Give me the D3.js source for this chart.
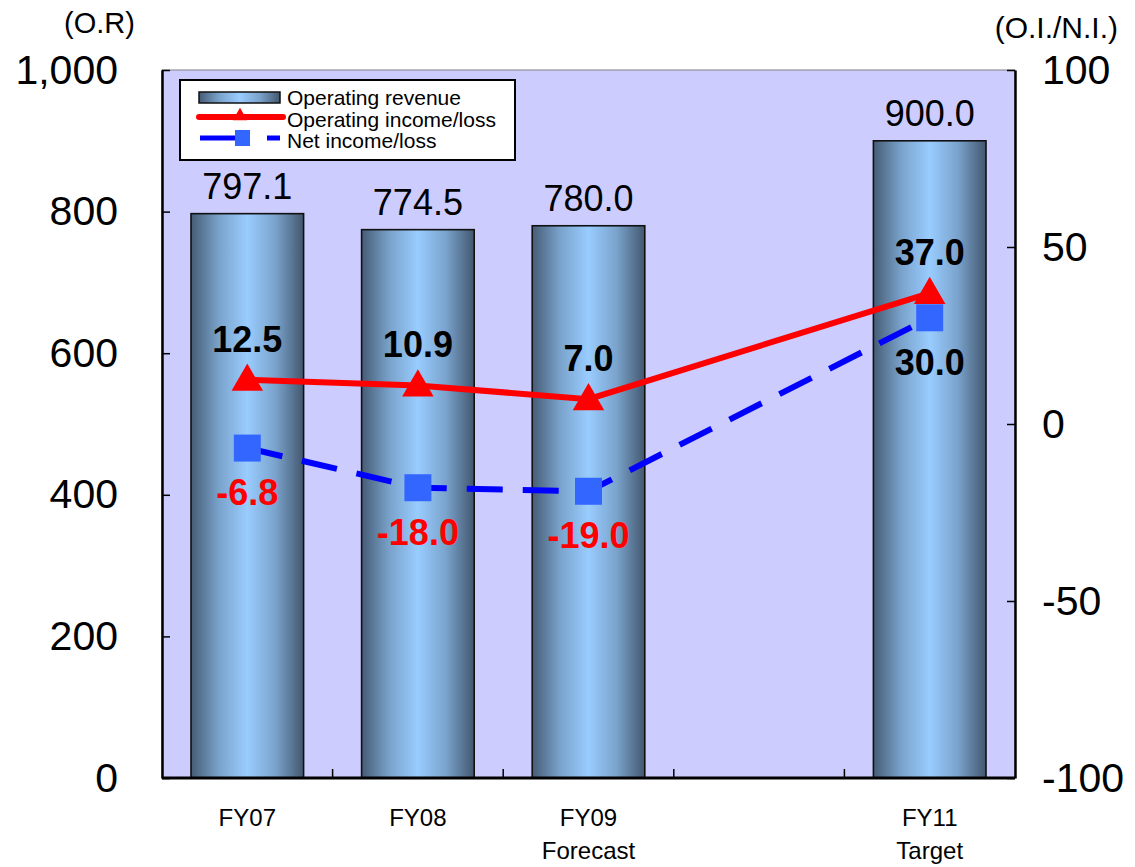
<!DOCTYPE html>
<html>
<head>
<meta charset="utf-8">
<script src="https://cdn.jsdelivr.net/npm/d3@7"></script>
<style>
  html, body { margin: 0; padding: 0; background: #ffffff; }
  svg { display: block; font-family: "Liberation Sans", Arial, sans-serif; }
</style>
</head>
<body>
<svg id="chart" width="1135" height="867"></svg>
<script>
// Fiscal years on the category axis (FY10 slot is left empty)
const categories = ["FY07", "FY08", "FY09", "FY10", "FY11"];
const subLabels = ["", "", "Forecast", "", "Target"];

// Operating revenue (left axis)
const revenue = [797.1, 774.5, 780.0, null, 900.0];
// Operating income/loss and net income/loss (right axis)
const opIncome = [12.5, 10.9, 7.0, null, 37.0];
const netIncome = [-6.8, -18.0, -19.0, null, 30.0];

// Axis ticks
const leftTicks = [0, 200, 400, 600, 800, 1000];
const rightTicks = [-100, -50, 0, 50, 100];

const seriesNames = ["Operating revenue", "Operating income/loss", "Net income/loss"];

const svg = d3.select("#chart");
const plot = { left: 162, right: 1015, top: 70, bottom: 778 };

const x = d3.scaleBand()
  .domain(categories)
  .range([plot.left, plot.right])
  .paddingInner(0.34)
  .paddingOuter(0.17);
const yL = d3.scaleLinear().domain([0, 1000]).range([plot.bottom, plot.top]);
const yR = d3.scaleLinear().domain([-100, 100]).range([plot.bottom, plot.top]);
const cx = c => x(c) + x.bandwidth() / 2;

// Bar gradient: dark edges, light centre
const defs = svg.append("defs");
const grad = defs.append("linearGradient").attr("id", "barGrad")
  .attr("x1", "0%").attr("x2", "100%").attr("y1", "0%").attr("y2", "0%");
grad.append("stop").attr("offset", "0%").attr("stop-color", "#465c75");
grad.append("stop").attr("offset", "25%").attr("stop-color", "#7aa3cc");
grad.append("stop").attr("offset", "50%").attr("stop-color", "#99ccff");
grad.append("stop").attr("offset", "75%").attr("stop-color", "#7aa3cc");
grad.append("stop").attr("offset", "100%").attr("stop-color", "#43576e");

// Plot background
svg.append("rect")
  .attr("x", plot.left).attr("y", plot.top)
  .attr("width", plot.right - plot.left).attr("height", plot.bottom - plot.top)
  .attr("fill", "#ccccff").attr("stroke", "#808080").attr("stroke-width", 1);

// Bars
const barData = categories.map((c, i) => ({ c, v: revenue[i] })).filter(d => d.v != null);
svg.append("g").selectAll("rect").data(barData).join("rect")
  .attr("x", d => x(d.c))
  .attr("y", d => yL(d.v))
  .attr("width", x.bandwidth())
  .attr("height", d => yL(0) - yL(d.v))
  .attr("fill", "url(#barGrad)")
  .attr("stroke", "#111")
  .attr("stroke-width", 1.6);

// Bar value labels
svg.append("g").selectAll("text").data(barData).join("text")
  .attr("x", d => cx(d.c))
  .attr("y", d => yL(d.v) - 15)
  .attr("text-anchor", "middle")
  .attr("font-size", 36)
  .attr("fill", "#000")
  .text(d => d.v.toFixed(1));

// Axes
const axisFont = g => g.selectAll("text")
  .attr("font-size", 41)
  .attr("font-family", "'Liberation Sans', Arial, sans-serif")
  .attr("fill", "#000");

svg.append("g")
  .attr("transform", `translate(${plot.left},0)`)
  .call(d3.axisLeft(yL).tickValues(leftTicks).tickFormat(d3.format(","))
    .tickSizeInner(-8).tickSizeOuter(0).tickPadding(44))
  .call(axisFont)
  .call(g => g.select(".domain").attr("stroke", "#000").attr("stroke-width", 2.5))
  .call(g => g.selectAll(".tick line").attr("stroke", "#000").attr("stroke-width", 1.5));

svg.append("g")
  .attr("transform", `translate(${plot.right},0)`)
  .call(d3.axisRight(yR).tickValues(rightTicks).tickFormat(d => String(d))
    .tickSizeInner(-8).tickSizeOuter(0).tickPadding(27))
  .call(axisFont)
  .call(g => g.select(".domain").attr("stroke", "#000").attr("stroke-width", 2.5))
  .call(g => g.selectAll(".tick line").attr("stroke", "#000").attr("stroke-width", 1.5));

// Category axis line with boundary ticks
svg.append("line")
  .attr("x1", plot.left).attr("x2", plot.right)
  .attr("y1", plot.bottom).attr("y2", plot.bottom)
  .attr("stroke", "#000").attr("stroke-width", 3);
const boundaries = categories.slice(0, -1).map(c => x(c) + x.bandwidth() + (x.step() - x.bandwidth()) / 2);
svg.append("g").selectAll("line").data(boundaries).join("line")
  .attr("x1", d => d).attr("x2", d => d)
  .attr("y1", plot.bottom).attr("y2", plot.bottom - 9)
  .attr("stroke", "#000").attr("stroke-width", 1.5);

// Category labels
const catG = svg.append("g").attr("font-size", 24).attr("text-anchor", "middle").attr("fill", "#000");
categories.forEach((c, i) => {
  if (revenue[i] == null) return;
  catG.append("text").attr("x", cx(c)).attr("y", 826).text(c);
  if (subLabels[i]) catG.append("text").attr("x", cx(c)).attr("y", 859).text(subLabels[i]);
});

// Axis unit titles
svg.append("text").attr("x", 64).attr("y", 33).attr("font-size", 29).text("(O.R)");
svg.append("text").attr("x", 1118).attr("y", 38).attr("font-size", 30)
  .attr("text-anchor", "end").text("(O.I./N.I.)");

// Lines
const opData = categories.map((c, i) => ({ c, v: opIncome[i] })).filter(d => d.v != null);
const niData = categories.map((c, i) => ({ c, v: netIncome[i] })).filter(d => d.v != null);
const line = d3.line().x(d => cx(d.c)).y(d => yR(d.v));

svg.append("path").datum(niData)
  .attr("d", line).attr("fill", "none")
  .attr("stroke", "#0000ff").attr("stroke-width", 6)
  .attr("stroke-dasharray", "36,20");
svg.append("path").datum(opData)
  .attr("d", line).attr("fill", "none")
  .attr("stroke", "#ff0000").attr("stroke-width", 6);

// Markers
const sq = 27;
svg.append("g").selectAll("rect").data(niData).join("rect")
  .attr("x", d => cx(d.c) - sq / 2).attr("y", d => yR(d.v) - sq / 2)
  .attr("width", sq).attr("height", sq).attr("fill", "#3366ff");
const tri = d3.symbol().type(d3.symbolTriangle).size(430);
svg.append("g").selectAll("path").data(opData).join("path")
  .attr("transform", d => `translate(${cx(d.c)},${yR(d.v) + 2})`)
  .attr("d", tri).attr("fill", "#ff0000");

// Line value labels
svg.append("g").selectAll("text").data(opData).join("text")
  .attr("x", d => cx(d.c)).attr("y", d => yR(d.v) - 28)
  .attr("text-anchor", "middle").attr("font-size", 36).attr("font-weight", "bold")
  .attr("fill", "#000").text(d => d.v.toFixed(1));
svg.append("g").selectAll("text").data(niData).join("text")
  .attr("x", d => cx(d.c)).attr("y", d => yR(d.v) + 57)
  .attr("text-anchor", "middle").attr("font-size", 36).attr("font-weight", "bold")
  .attr("fill", d => d.v < 0 ? "#ff0000" : "#000").text(d => d.v.toFixed(1));

// Legend
const lg = svg.append("g");
lg.append("rect").attr("x", 180).attr("y", 80).attr("width", 335).attr("height", 80)
  .attr("fill", "#fff").attr("stroke", "#000").attr("stroke-width", 2);
// revenue swatch
lg.append("rect").attr("x", 199).attr("y", 92).attr("width", 81).attr("height", 11)
  .attr("fill", "url(#barGrad)").attr("stroke", "#111").attr("stroke-width", 1.5);
// operating income swatch
lg.append("line").attr("x1", 199).attr("x2", 283).attr("y1", 117).attr("y2", 117)
  .attr("stroke", "#ff0000").attr("stroke-width", 6).attr("stroke-linecap", "round");
lg.append("path").attr("transform", "translate(240,116)")
  .attr("d", d3.symbol().type(d3.symbolTriangle).size(90)()).attr("fill", "#ff0000");
// net income swatch
lg.append("line").attr("x1", 200).attr("x2", 280).attr("y1", 138).attr("y2", 138)
  .attr("stroke", "#0000ff").attr("stroke-width", 5).attr("stroke-dasharray", "35,32");
lg.append("rect").attr("x", 235).attr("y", 130).attr("width", 15).attr("height", 16)
  .attr("fill", "#3366ff");
const lgText = lg.append("g").attr("font-size", 21).attr("fill", "#000");
[105, 127, 148].forEach((yy, i) => {
  lgText.append("text").attr("x", 287).attr("y", yy).text(seriesNames[i]);
});
</script>
</body>
</html>
